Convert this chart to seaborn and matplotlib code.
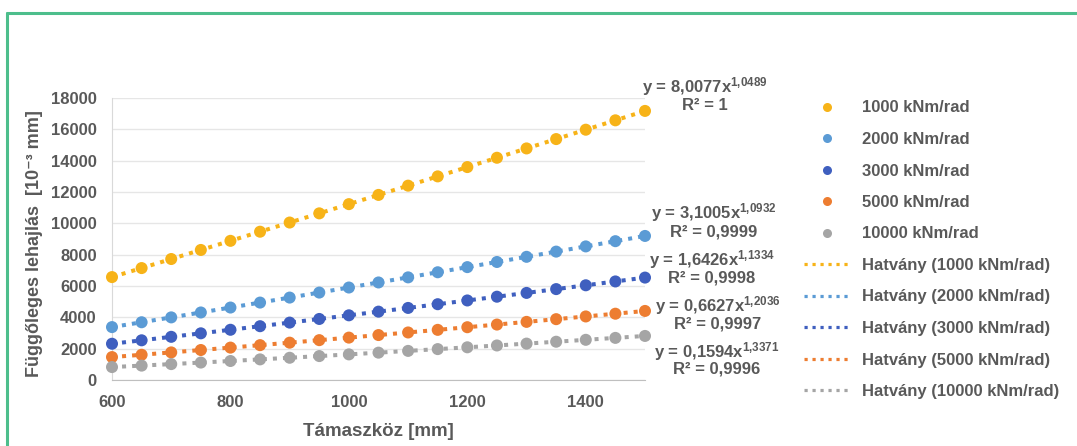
import numpy as np
import pandas as pd
import seaborn as sns
import matplotlib.pyplot as plt
from matplotlib.lines import Line2D

# span [mm]
span = [600, 650, 700, 750, 800, 850, 900, 950, 1000, 1050, 1100, 1150,
        1200, 1250, 1300, 1350, 1400, 1450, 1500]

# deflection [1e-3 mm] per joint stiffness
k1000 = [6569, 7144, 7722, 8301, 8883, 9466, 10051, 10637, 11225, 11814,
         12405, 12997, 13591, 14186, 14781, 15378, 15976, 16575, 17175]
k2000 = [3377, 3686, 3997, 4310, 4625, 4942, 5261, 5581, 5903, 6226,
         6551, 6877, 7205, 7533, 7863, 8195, 8527, 8861, 9195]
k3000 = [2314, 2534, 2756, 2980, 3206, 3434, 3664, 3896, 4129, 4363,
         4600, 4838, 5077, 5317, 5559, 5802, 6046, 6291, 6537]
k5000 = [1463, 1611, 1761, 1914, 2068, 2225, 2383, 2544, 2706, 2869,
         3034, 3201, 3369, 3539, 3710, 3883, 4056, 4231, 4408]
k10000 = [826, 919, 1015, 1113, 1213, 1316, 1420, 1527, 1635, 1746,
          1858, 1972, 2087, 2204, 2323, 2443, 2565, 2688, 2812]

labels = ['1000 kNm/rad', '2000 kNm/rad', '3000 kNm/rad', '5000 kNm/rad', '10000 kNm/rad']
colors = ['#F7B318', '#5B9BD5', '#3F5FBF', '#ED7D31', '#A5A5A5']
equations = ['y = 8,0077x$^{1{,}0489}$', 'y = 3,1005x$^{1{,}0932}$', 'y = 1,6426x$^{1{,}1334}$',
             'y = 0,6627x$^{1{,}2036}$', 'y = 0,1594x$^{1{,}3371}$']
r2 = ['R² = 1', 'R² = 0,9999', 'R² = 0,9998', 'R² = 0,9997', 'R² = 0,9996']

series = [k1000, k2000, k3000, k5000, k10000]
df = pd.concat([pd.DataFrame({'span': span, 'defl': s, 'k': lab}) for s, lab in zip(series, labels)])

sns.set_style('white')
plt.rcParams['font.family'] = ['Liberation Sans', 'DejaVu Sans']
plt.rcParams['font.weight'] = 'bold'
plt.rcParams['mathtext.fontset'] = 'custom'
plt.rcParams['mathtext.rm'] = 'Liberation Sans:bold'
plt.rcParams['mathtext.default'] = 'rm'
txt = '#595959'
dots = (0, (1, 1.5))

fig = plt.figure(figsize=(10.77, 4.46), dpi=100)
ax = fig.add_axes([112 / 1077, 1 - 380 / 446, 533 / 1077, 282 / 446])

# power trendlines (fit in log-log space)
xs = np.linspace(600, 1500, 100)
for s, lab, c in zip(series, labels, colors):
    b, a = np.polyfit(np.log(span), np.log(s), 1)
    sns.lineplot(x=xs, y=np.exp(a) * xs ** b, color=c, linestyle=dots,
                 linewidth=2.9, ax=ax, zorder=2)

sns.scatterplot(data=df, x='span', y='defl', hue='k', palette=colors, s=75,
                edgecolor='none', ax=ax, legend=False, zorder=3, clip_on=False)

ax.set_xlim(600, 1500)
ax.set_ylim(0, 18000)
ax.set_xticks([600, 800, 1000, 1200, 1400])
ax.set_yticks(range(0, 18001, 2000))
ax.grid(axis='y', color='#e6e6e6', linewidth=1)
ax.tick_params(axis='y', labelsize=12, colors=txt, length=0, pad=11)
ax.tick_params(axis='x', labelsize=12, labelcolor=txt, length=4, color='#bfbfbf', pad=7)
for lab_ in ax.get_xticklabels() + ax.get_yticklabels():
    lab_.set_fontweight('bold')
for sp in ['top', 'right']:
    ax.spines[sp].set_visible(False)
ax.spines['left'].set_color('#d9d9d9')
ax.spines['bottom'].set_color('#bfbfbf')
ax.set_xlabel('Támaszköz [mm]', fontsize=13.5, color=txt, fontweight='bold', labelpad=9)
ax.set_ylabel('Függőleges lehajlás  [10⁻³ mm]', fontsize=13, color=txt, fontweight='bold', labelpad=4)
ax.yaxis.set_label_coords(-0.13, 0.485)

# trendline equations
eq_pos = [(705, 87, 106), (714, 213, 232), (712, 260, 278), (718, 306, 324), (717, 352, 369)]
for (cx, y1, y2), eq, r in zip(eq_pos, equations, r2):
    fig.text(cx / 1077, 1 - y1 / 446, eq, ha='center', va='center', fontsize=12, color=txt, fontweight='bold')
    fig.text(cx / 1077, 1 - y2 / 446, r, ha='center', va='center', fontsize=12, color=txt, fontweight='bold')

# legend
handles = [Line2D([], [], linestyle='none', marker='o', markersize=6.5, color=c, markeredgecolor='none') for c in colors]
handles += [Line2D([], [], linestyle=dots, linewidth=2.3, color=c) for c in colors]
leg_labels = labels + ['Hatvány (' + lab + ')' for lab in labels]
leg = fig.legend(handles, leg_labels, loc='upper left', bbox_to_anchor=(804 / 1077, 1 - 100.5 / 446),
                 frameon=False, fontsize=12, labelspacing=0.99, handlelength=2.75,
                 handletextpad=0.7, borderpad=0, borderaxespad=0)
for t in leg.get_texts():
    t.set_color(txt)
    t.set_fontweight('bold')

# green frame
fig.add_artist(Line2D([7 / 1077, 7 / 1077], [0, 1 - 13 / 446], color='#4DBE8C', linewidth=2.2, transform=fig.transFigure))
fig.add_artist(Line2D([7 / 1077, 1], [1 - 13 / 446, 1 - 13 / 446], color='#4DBE8C', linewidth=2.2, transform=fig.transFigure))

fig.savefig('out.png', dpi=100)
